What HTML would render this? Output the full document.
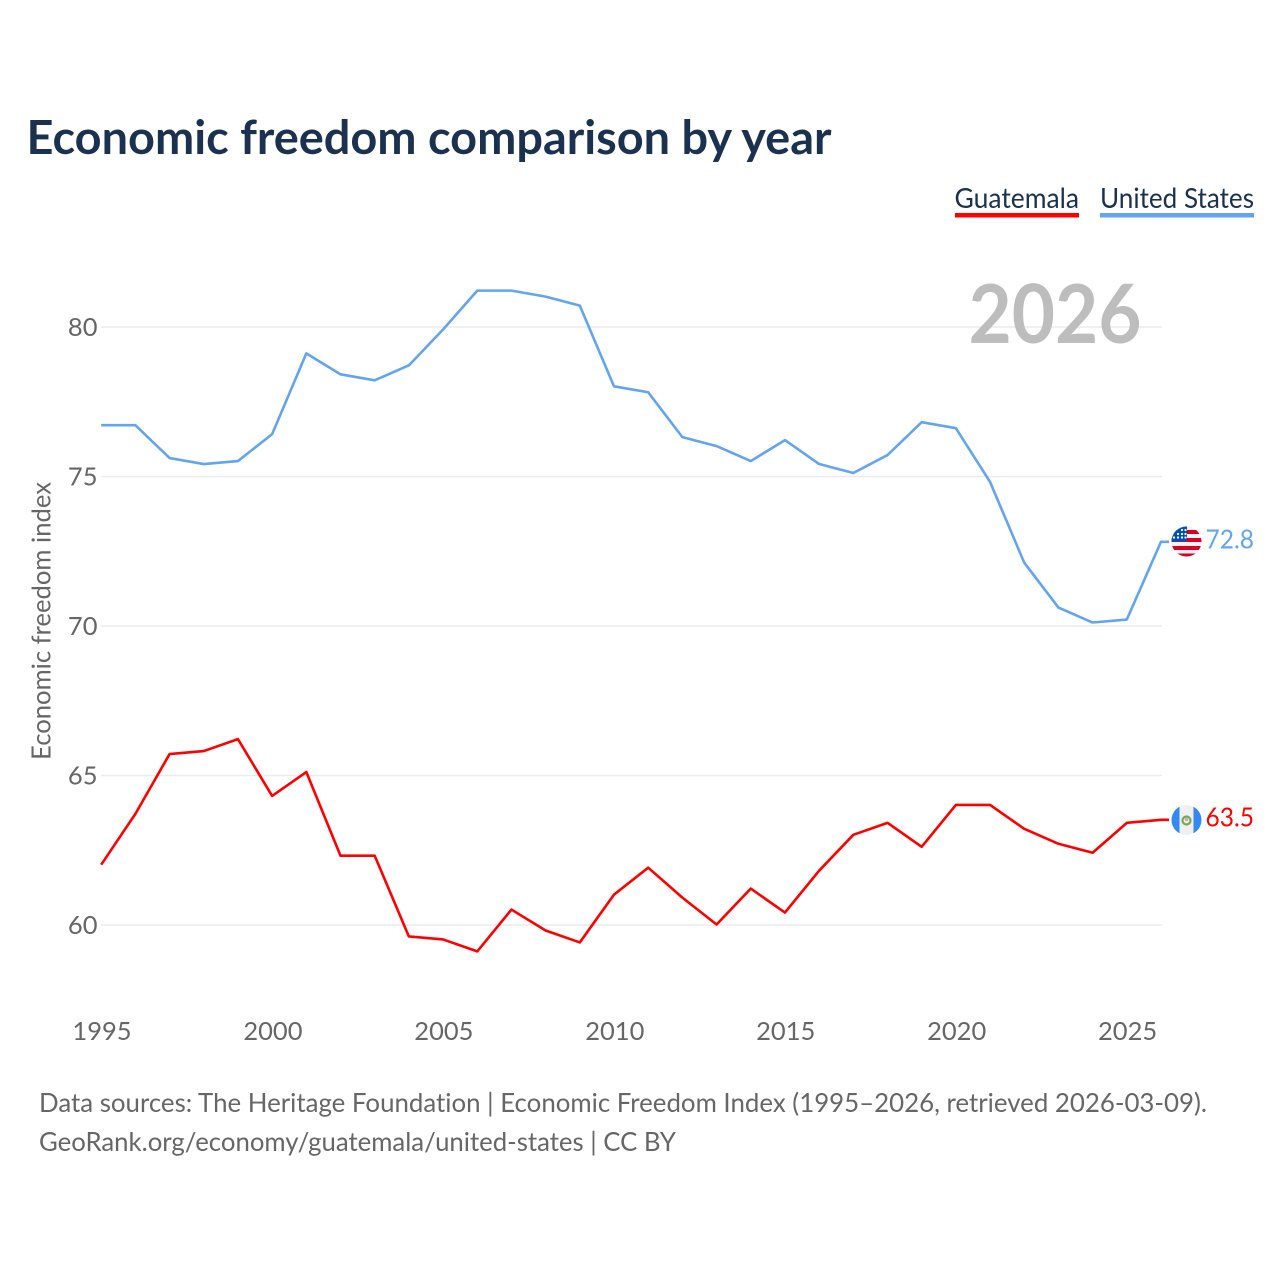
<!DOCTYPE html>
<html lang="en">
<head>
<meta charset="utf-8">
<title>Economic freedom comparison by year</title>
<style>
html,body{margin:0;padding:0;background:#fff;width:1280px;height:1280px;overflow:hidden}
svg{display:block}
text{font-family:"Lato","Liberation Sans",sans-serif;font-variant-ligatures:none}
</style>
</head>
<body>
<svg id="chart" width="1280" height="1280" viewBox="0 0 1280 1280" xmlns="http://www.w3.org/2000/svg">
  <rect width="1280" height="1280" fill="#fff"/>
  <text x="26.5" y="154" font-size="47" font-weight="700" fill="#1a3150" textLength="805" lengthAdjust="spacingAndGlyphs">Economic freedom comparison by year</text>

  <g>
    <text x="954.5" y="208" font-size="28" fill="#1a3150" textLength="124.5" lengthAdjust="spacingAndGlyphs">Guatemala</text>
    <rect x="955" y="213" width="124" height="4.5" fill="#ff0000"/>
  </g>
  <g>
    <text x="1100" y="208" font-size="28" fill="#1a3150" textLength="154" lengthAdjust="spacingAndGlyphs">United States</text>
    <rect x="1100" y="213" width="154" height="4.5" fill="#62a5ee"/>
  </g>

  <g id="grid"></g>
  <text x="968.5" y="343" font-size="81" font-weight="700" fill="#bdbdbd" textLength="173" lengthAdjust="spacingAndGlyphs">2026</text>
  <g id="ylabels"></g>
  <g id="xlabels"></g>
  <text transform="translate(50.5,621) rotate(-90)" text-anchor="middle" font-size="26" fill="#666" textLength="278" lengthAdjust="spacingAndGlyphs">Economic freedom index</text>
  <g id="series"></g>

  <defs>
    <clipPath id="us-clip"><circle cx="1186.5" cy="541.5" r="15"/></clipPath>
    <clipPath id="gt-clip"><circle cx="1186.5" cy="820" r="15"/></clipPath>
  </defs>
  <g id="flag-us" clip-path="url(#us-clip)">
    <rect x="1171" y="526" width="31" height="31" fill="#f2f2f2"/>
    <rect x="1171" y="530" width="31" height="4" fill="#d80027"/>
    <rect x="1171" y="538" width="31" height="4" fill="#d80027"/>
    <rect x="1171" y="546" width="31" height="4" fill="#d80027"/>
    <rect x="1171" y="553.5" width="31" height="4" fill="#d80027"/>
    <rect x="1171" y="526" width="16" height="15.5" fill="#0052b4"/>
    <circle cx="1174" cy="537.5" r="1.1" fill="#fff"/>
    <circle cx="1178" cy="537.5" r="1.1" fill="#fff"/>
    <circle cx="1182" cy="537.5" r="1.1" fill="#fff"/>
    <circle cx="1185.5" cy="537.5" r="1.1" fill="#fff"/>
    <circle cx="1178" cy="534" r="1.1" fill="#fff"/>
    <circle cx="1182" cy="534" r="1.1" fill="#fff"/>
    <circle cx="1185.5" cy="534" r="1.1" fill="#fff"/>
    <circle cx="1182" cy="530" r="1.1" fill="#fff"/>
    <circle cx="1185.5" cy="530" r="1.1" fill="#fff"/>
  </g>
  <g id="flag-gt" clip-path="url(#gt-clip)">
    <rect x="1171" y="804" width="31" height="31" fill="#f0f0f0"/>
    <rect x="1171" y="804" width="8.5" height="31" fill="#338af3"/>
    <rect x="1193.5" y="804" width="9" height="31" fill="#338af3"/>
    <circle cx="1186.5" cy="820.5" r="4" fill="none" stroke="#7da55a" stroke-width="2.2"/>
    <circle cx="1186.5" cy="819.5" r="1.8" fill="#b9b9a0"/>
  </g>
  <g id="endlabels"></g>

  <text x="39" y="1112" font-size="26.5" fill="#666" textLength="1168" lengthAdjust="spacingAndGlyphs">Data sources: The Heritage Foundation | Economic Freedom Index (1995–2026, retrieved 2026-03-09).</text>
  <text x="39" y="1151" font-size="26.5" fill="#666" textLength="637" lengthAdjust="spacingAndGlyphs">GeoRank.org/economy/guatemala/united-states | CC BY</text>
</svg>
<script>
const years = [1995,1996,1997,1998,1999,2000,2001,2002,2003,2004,2005,2006,2007,2008,2009,2010,2011,2012,2013,2014,2015,2016,2017,2018,2019,2020,2021,2022,2023,2024,2025,2026];
const unitedStates = [76.7,76.7,75.6,75.4,75.5,76.4,79.1,78.4,78.2,78.7,79.9,81.2,81.2,81.0,80.7,78.0,77.8,76.3,76.0,75.5,76.2,75.4,75.1,75.7,76.8,76.6,74.8,72.1,70.6,70.1,70.2,72.8];
const guatemala = [62.0,63.7,65.7,65.8,66.2,64.3,65.1,62.3,62.3,59.6,59.5,59.1,60.5,59.8,59.4,61.0,61.9,60.9,60.0,61.2,60.4,61.8,63.0,63.4,62.6,64.0,64.0,63.2,62.7,62.4,63.4,63.5];
const yTicks = [60,65,70,75,80];
const xTicks = [1995,2000,2005,2010,2015,2020,2025];

const NS = 'http://www.w3.org/2000/svg';
const xScale = function (year) { return 101.2 + (year - 1995) * (1161 - 101.2) / 31; };
const yScale = function (value) { return 925 - (value - 60) * (925 - 327) / 20; };

function make(tag, parent, attrs, content) {
  const el = document.createElementNS(NS, tag);
  Object.keys(attrs).forEach(function (k) { el.setAttribute(k, attrs[k]); });
  if (content !== undefined) el.textContent = content;
  parent.appendChild(el);
  return el;
}

const gridGroup = document.getElementById('grid');
const yGroup = document.getElementById('ylabels');
const xGroup = document.getElementById('xlabels');
const seriesGroup = document.getElementById('series');
const endGroup = document.getElementById('endlabels');

yTicks.forEach(function (t) {
  const line = make('line', gridGroup, {x1: 101, x2: 1162, y1: yScale(t), y2: yScale(t), stroke: '#ebebeb', 'stroke-width': 1.6});
  
  
  const label = make('text', yGroup, {x: 97.5, y: yScale(t) + 9, 'text-anchor': 'end', 'font-size': 25.5, fill: '#666'}, String(t));
  
  
});

xTicks.forEach(function (t) {
  const label = make('text', xGroup, {x: xScale(t) + 0.8, y: 1040, 'text-anchor': 'middle', 'font-size': 25.5, fill: '#666'}, String(t));
  
  
});

function drawSeries(values, color, key) {
  const pts = values.map(function (v, i) { return xScale(years[i]) + ',' + (yScale(v) - 0.5); });
  const last = values[values.length - 1];
  pts.push('1169,' + (yScale(last) - 0.5));
  const line = make('polyline', seriesGroup, {points: pts.join(' '), fill: 'none', stroke: color, 'stroke-width': 2.6, 'stroke-linejoin': 'round'});
  
  
  const label = make('text', endGroup, {x: 1205.5, y: yScale(last) + 6, 'font-size': 26, fill: color, textLength: 48.5, lengthAdjust: 'spacingAndGlyphs'}, last.toFixed(1));
  
  
}

drawSeries(guatemala, '#ff0000', 'guatemala');
drawSeries(unitedStates, '#62a5ee', 'united-states');
</script>
</body>
</html>
